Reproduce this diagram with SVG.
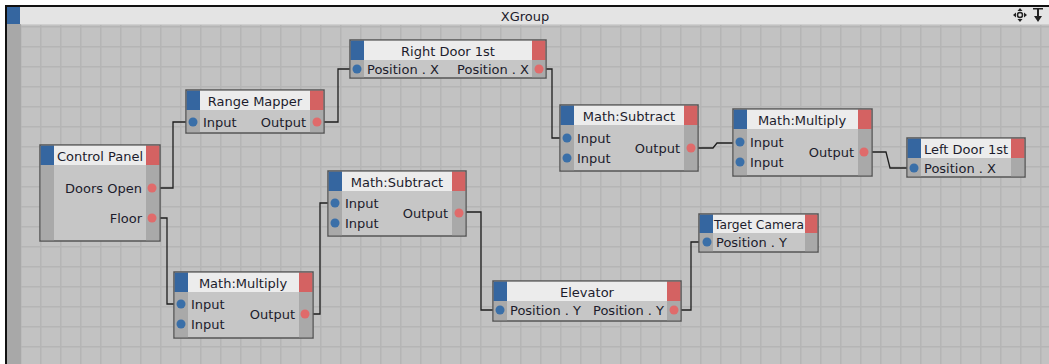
<svg xmlns="http://www.w3.org/2000/svg" width="1049" height="364" viewBox="0 0 1049 364">
<style>
.body{fill:#c6c6c6;stroke:#555;stroke-width:1.5}
.strip{fill:#a9a9a9}
.blue{fill:#3566a0}
.red{fill:#d46262}
.head{fill:#ececec}
.pin{fill:#3a6fa8}
.pout{fill:#e06b6b}
.t{font-family:"DejaVu Sans",Verdana,sans-serif;font-size:13px;fill:#1c1c2c}
.c{text-anchor:middle}
.r{text-anchor:end}
.wire{fill:none;stroke:#1e1e1e;stroke-width:1.3}
</style>
<defs>
<pattern id="grid" patternUnits="userSpaceOnUse" x="0" y="6" width="20" height="20">
<rect width="20" height="20" fill="#c2c2c2"/>
<rect x="0" y="0" width="20" height="1.5" fill="#b5b5b5"/>
<rect x="0" y="0" width="1.5" height="20" fill="#b5b5b5"/>
</pattern>
</defs>
<rect x="0" y="0" width="1049" height="364" fill="#ffffff"/>
<rect x="21" y="25" width="1028" height="339" fill="url(#grid)"/>
<rect x="7" y="7" width="1042" height="17" fill="#e4e4e4"/>
<rect x="7" y="24" width="1042" height="1" fill="#cfcfcf"/>
<rect x="7" y="7" width="13" height="17" class="blue"/>
<rect x="7" y="24" width="14" height="340" fill="#a8a8a8"/>
<rect x="5" y="5" width="1044" height="2" fill="#111"/>
<rect x="5" y="5" width="2" height="359" fill="#111"/>
<text x="525" y="21" class="t c" font-size="12">XGroup</text>
<g id="icons" fill="#222">
<circle cx="1020" cy="15" r="2.5" fill="none" stroke="#222" stroke-width="1.5"/>
<path d="M1020 8 l-2.5 3 h5 z M1020 22 l-2.5 -3 h5 z M1013 15 l3 -2.5 v5 z M1027 15 l-3 -2.5 v5 z"/>
<path d="M1033 8 h10 v1.6 h-10 z M1037 9 h2 v7 h3 l-4 6 l-4 -6 h3 z"/>
</g>
<g id="connectors">
<path class="wire" d="M160 188 H173 V122 H186"/>
<path class="wire" d="M324 122 H338 V69 H350"/>
<path class="wire" d="M546 69 H552 V138 H560"/>
<path class="wire" d="M698 148 H713 L717 143 H733"/>
<path class="wire" d="M872 152 H886 L890 168 H907"/>
<path class="wire" d="M160 218 H167 V304 H174"/>
<path class="wire" d="M313 314 H320 V203 H328"/>
<path class="wire" d="M466 212 H481 V310 H493"/>
<path class="wire" d="M681 310 H691 V242 H699"/>
</g>
<g id="control-panel">
<rect class="body" x="40" y="145" width="120" height="96"/>
<rect class="strip" x="40.75" y="165" width="13.25" height="75.25"/>
<rect class="strip" x="146" y="165" width="13.25" height="75.25"/>
<rect class="blue" x="40.75" y="145.75" width="13.25" height="19.25"/>
<rect class="head" x="54" y="145.75" width="92" height="19.25"/>
<rect class="red" x="146" y="145.75" width="13.25" height="19.25"/>
<text class="t c" x="100" y="161">Control Panel</text>
<text class="t r" x="142" y="193">Doors Open</text>
<text class="t r" x="142" y="223">Floor</text>
<circle class="pout" cx="152" cy="188" r="4.5"/>
<circle class="pout" cx="152" cy="218" r="4.5"/>
</g>
<g id="range-mapper">
<rect class="body" x="186" y="90" width="138" height="43"/>
<rect class="strip" x="186.75" y="110" width="13.25" height="22.25"/>
<rect class="strip" x="310" y="110" width="13.25" height="22.25"/>
<rect class="blue" x="186.75" y="90.75" width="13.25" height="19.25"/>
<rect class="head" x="200" y="90.75" width="110" height="19.25"/>
<rect class="red" x="310" y="90.75" width="13.25" height="19.25"/>
<text class="t c" x="255" y="106">Range Mapper</text>
<text class="t" x="203" y="127">Input</text>
<text class="t r" x="306" y="127">Output</text>
<circle class="pin" cx="193" cy="122" r="4.5"/>
<circle class="pout" cx="317" cy="122" r="4.5"/>
</g>
<g id="right-door-1st">
<rect class="body" x="350" y="40" width="196" height="38"/>
<rect class="strip" x="350.75" y="60" width="13.25" height="17.25"/>
<rect class="strip" x="532" y="60" width="13.25" height="17.25"/>
<rect class="blue" x="350.75" y="40.75" width="13.25" height="19.25"/>
<rect class="head" x="364" y="40.75" width="168" height="19.25"/>
<rect class="red" x="532" y="40.75" width="13.25" height="19.25"/>
<text class="t c" x="448" y="56">Right Door 1st</text>
<text class="t" x="367" y="74">Position . X</text>
<text class="t r" x="529" y="74">Position . X</text>
<circle class="pin" cx="357" cy="69" r="4.5"/>
<circle class="pout" cx="539" cy="69" r="4.5"/>
</g>
<g id="math-subtract-1">
<rect class="body" x="560" y="105" width="138" height="66"/>
<rect class="strip" x="560.75" y="125" width="13.25" height="45.25"/>
<rect class="strip" x="684" y="125" width="13.25" height="45.25"/>
<rect class="blue" x="560.75" y="105.75" width="13.25" height="19.25"/>
<rect class="head" x="574" y="105.75" width="110" height="19.25"/>
<rect class="red" x="684" y="105.75" width="13.25" height="19.25"/>
<text class="t c" x="629" y="121">Math:Subtract</text>
<text class="t" x="577" y="143">Input</text>
<text class="t" x="577" y="163">Input</text>
<text class="t r" x="680" y="153">Output</text>
<circle class="pin" cx="567" cy="138" r="4.5"/>
<circle class="pin" cx="567" cy="158" r="4.5"/>
<circle class="pout" cx="691" cy="148" r="4.5"/>
</g>
<g id="math-multiply-1">
<rect class="body" x="733" y="109" width="139" height="67"/>
<rect class="strip" x="733.75" y="129" width="13.25" height="46.25"/>
<rect class="strip" x="858" y="129" width="13.25" height="46.25"/>
<rect class="blue" x="733.75" y="109.75" width="13.25" height="19.25"/>
<rect class="head" x="747" y="109.75" width="111" height="19.25"/>
<rect class="red" x="858" y="109.75" width="13.25" height="19.25"/>
<text class="t c" x="802" y="125">Math:Multiply</text>
<text class="t" x="750" y="147">Input</text>
<text class="t" x="750" y="167">Input</text>
<text class="t r" x="854" y="157">Output</text>
<circle class="pin" cx="740" cy="142" r="4.5"/>
<circle class="pin" cx="740" cy="162" r="4.5"/>
<circle class="pout" cx="864" cy="152" r="4.5"/>
</g>
<g id="left-door-1st">
<rect class="body" x="907" y="138" width="118" height="39"/>
<rect class="strip" x="907.75" y="158" width="13.25" height="18.25"/>
<rect class="strip" x="1011" y="158" width="13.25" height="18.25"/>
<rect class="blue" x="907.75" y="138.75" width="13.25" height="19.25"/>
<rect class="head" x="921" y="138.75" width="90" height="19.25"/>
<rect class="red" x="1011" y="138.75" width="13.25" height="19.25"/>
<text class="t c" x="966" y="154">Left Door 1st</text>
<text class="t" x="924" y="173">Position . X</text>
<circle class="pin" cx="914" cy="168" r="4.5"/>
</g>
<g id="math-subtract-2">
<rect class="body" x="328" y="171" width="138" height="65"/>
<rect class="strip" x="328.75" y="191" width="13.25" height="44.25"/>
<rect class="strip" x="452" y="191" width="13.25" height="44.25"/>
<rect class="blue" x="328.75" y="171.75" width="13.25" height="19.25"/>
<rect class="head" x="342" y="171.75" width="110" height="19.25"/>
<rect class="red" x="452" y="171.75" width="13.25" height="19.25"/>
<text class="t c" x="397" y="187">Math:Subtract</text>
<text class="t" x="345" y="208">Input</text>
<text class="t" x="345" y="228">Input</text>
<text class="t r" x="448" y="218">Output</text>
<circle class="pin" cx="335" cy="203" r="4.5"/>
<circle class="pin" cx="335" cy="223" r="4.5"/>
<circle class="pout" cx="459" cy="213" r="4.5"/>
</g>
<g id="math-multiply-2">
<rect class="body" x="174" y="272" width="139" height="66"/>
<rect class="strip" x="174.75" y="292" width="13.25" height="45.25"/>
<rect class="strip" x="299" y="292" width="13.25" height="45.25"/>
<rect class="blue" x="174.75" y="272.75" width="13.25" height="19.25"/>
<rect class="head" x="188" y="272.75" width="111" height="19.25"/>
<rect class="red" x="299" y="272.75" width="13.25" height="19.25"/>
<text class="t c" x="243" y="288">Math:Multiply</text>
<text class="t" x="191" y="309">Input</text>
<text class="t" x="191" y="329">Input</text>
<text class="t r" x="295" y="319">Output</text>
<circle class="pin" cx="181" cy="304" r="4.5"/>
<circle class="pin" cx="181" cy="324" r="4.5"/>
<circle class="pout" cx="305" cy="314" r="4.5"/>
</g>
<g id="elevator">
<rect class="body" x="493" y="281" width="188" height="40"/>
<rect class="strip" x="493.75" y="301" width="13.25" height="19.25"/>
<rect class="strip" x="667" y="301" width="13.25" height="19.25"/>
<rect class="blue" x="493.75" y="281.75" width="13.25" height="19.25"/>
<rect class="head" x="507" y="281.75" width="160" height="19.25"/>
<rect class="red" x="667" y="281.75" width="13.25" height="19.25"/>
<text class="t c" x="587" y="297">Elevator</text>
<text class="t" x="510" y="315">Position . Y</text>
<text class="t r" x="664" y="315">Position . Y</text>
<circle class="pin" cx="500" cy="310" r="4.5"/>
<circle class="pout" cx="674" cy="310" r="4.5"/>
</g>
<g id="target-camera">
<rect class="body" x="699" y="214" width="119" height="38"/>
<rect class="strip" x="699.75" y="233" width="13.25" height="18.25"/>
<rect class="strip" x="805" y="233" width="12.25" height="18.25"/>
<rect class="blue" x="699.75" y="214.75" width="13.25" height="18.25"/>
<rect class="head" x="713" y="214.75" width="92" height="18.25"/>
<rect class="red" x="805" y="214.75" width="12.25" height="18.25"/>
<text class="t" x="714" y="229" textLength="90" lengthAdjust="spacingAndGlyphs">Target Camera</text>
<text class="t" x="716" y="247">Position . Y</text>
<circle class="pin" cx="707" cy="242" r="4.5"/>
</g>
</svg>
